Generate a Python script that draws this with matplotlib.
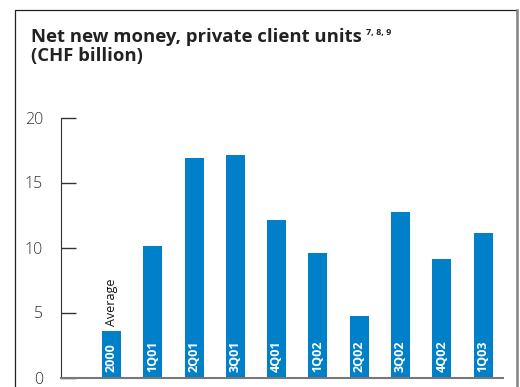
import matplotlib.pyplot as plt
from matplotlib.patches import Rectangle

periods = ['2000', '1Q01', '2Q01', '3Q01', '4Q01', '1Q02', '2Q02', '3Q02', '4Q02', '1Q03']
netNewMoney = [3.6, 10.15, 16.85, 17.15, 12.1, 9.55, 4.75, 12.7, 9.1, 11.1]
yTicks = [0, 5, 10, 15, 20]

barColor = '#0080c8'
textColor = '#333333'

plt.rcParams['font.family'] = ['Open Sans', 'DejaVu Sans']

fig = plt.figure(figsize=(5.2, 3.87), dpi=100)

# outer frame round the whole chart, open at the bottom
fig.add_artist(Rectangle((15 / 520, -0.1), 502 / 520, 1 - 10 / 387 + 0.1,
                         transform=fig.transFigure, fill=False,
                         edgecolor='#222222', linewidth=0.9))
fig.add_artist(plt.Line2D([517 / 520, 517 / 520], [0, 1 - 10 / 387],
                          transform=fig.transFigure, color='#888888', linewidth=1.8))

title = fig.text(31 / 520, 1 - 42 / 387, 'Net new money, private client units',
                 fontsize=13.3, fontweight='bold', color='#222222', va='baseline')
fig.text(31 / 520, 1 - 61 / 387, '(CHF billion)',
         fontsize=13.3, fontweight='bold', color='#222222', va='baseline')
# footnote markers sit just after the first title line
fig.canvas.draw()
tb = title.get_window_extent()
fig.text((tb.x1 + 4) / 520, 1 - 35 / 387, '7, 8, 9', fontsize=6.5, fontweight='bold',
         color='#222222', va='baseline')

ax = fig.add_axes([61 / 520, 1 - 377.5 / 387, (503 - 61) / 520, (377.5 - 117.5) / 387])
x = list(range(len(periods)))
ax.bar(x, netNewMoney, width=0.46, color=barColor, zorder=2)

ax.set_xlim(-1.22, 9.48)
ax.set_ylim(0, 20)
ax.set_yticks(yTicks)
ax.set_xticks([])
ax.tick_params(axis='y', direction='in', length=11, width=1, color='#333333',
               labelsize=11.5, labelcolor=textColor, pad=13)
for lbl in ax.get_yticklabels():
    lbl.set_fontweight('light')

for side in ['top', 'right']:
    ax.spines[side].set_visible(False)
ax.spines['left'].set_color('#333333')
ax.spines['bottom'].set_color('#777777')
ax.spines['bottom'].set_linewidth(1.5)

# period labels inside the bars
for xi, p in zip(x, periods):
    ax.text(xi, 0.45, p, rotation=90, ha='center', va='bottom', color='white',
            fontsize=9, fontweight='bold')

ax.text(0, netNewMoney[0] + 0.35, 'Average', rotation=90, ha='center', va='bottom',
        color='#111111', fontsize=9)

fig.savefig('out.png', dpi=100)
